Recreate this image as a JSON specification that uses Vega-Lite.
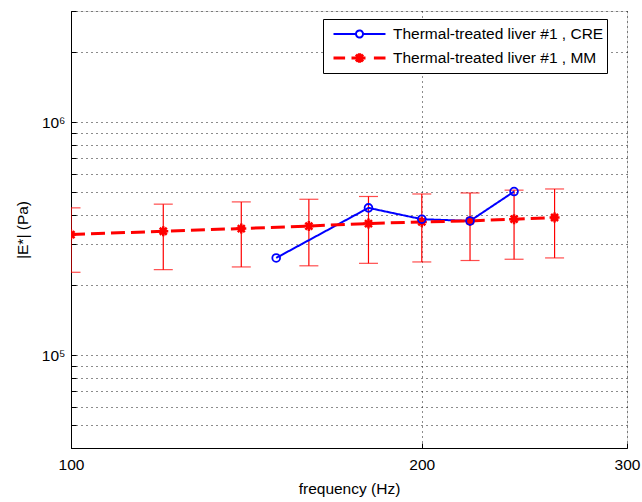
{
  "$schema": "https://vega.github.io/schema/vega-lite/v6.json",
  "width": 556,
  "height": 437,
  "autosize": {"type": "none"},
  "padding": {"left": 71, "top": 11, "right": 15, "bottom": 54},
  "background": "white",
  "data": {
    "values": [
      {"series": "Thermal-treated liver #1 , CRE", "freq": 150, "value": 261600},
      {"series": "Thermal-treated liver #1 , CRE", "freq": 180, "value": 429000},
      {"series": "Thermal-treated liver #1 , CRE", "freq": 200, "value": 383500},
      {"series": "Thermal-treated liver #1 , CRE", "freq": 220, "value": 377000},
      {"series": "Thermal-treated liver #1 , CRE", "freq": 240, "value": 504000},
      {"series": "Thermal-treated liver #1 , MM", "freq": 100, "value": 329600, "lo": 227000, "hi": 429000},
      {"series": "Thermal-treated liver #1 , MM", "freq": 120, "value": 340500, "lo": 233000, "hi": 445000},
      {"series": "Thermal-treated liver #1 , MM", "freq": 140, "value": 349800, "lo": 239300, "hi": 455000},
      {"series": "Thermal-treated liver #1 , MM", "freq": 160, "value": 358500, "lo": 242000, "hi": 467000},
      {"series": "Thermal-treated liver #1 , MM", "freq": 180, "value": 367500, "lo": 248000, "hi": 480000},
      {"series": "Thermal-treated liver #1 , MM", "freq": 200, "value": 373400, "lo": 251400, "hi": 492000},
      {"series": "Thermal-treated liver #1 , MM", "freq": 220, "value": 377000, "lo": 255000, "hi": 497000},
      {"series": "Thermal-treated liver #1 , MM", "freq": 240, "value": 383500, "lo": 258200, "hi": 511000},
      {"series": "Thermal-treated liver #1 , MM", "freq": 260, "value": 390000, "lo": 261600, "hi": 517000}
    ]
  },
  "encoding": {
    "x": {
      "field": "freq", "type": "quantitative",
      "scale": {"type": "log", "domain": [100, 300], "nice": false},
      "axis": {
        "title": "frequency (Hz)",
        "values": [100, 200, 300],
        "format": "d",
        "labelFlush": false,
        "labelOverlap": false,
        "labelBound": false,
        "grid": true,
        "gridColor": "#000000",
        "gridDash": [1, 4],
        "gridWidth": 1,
        "gridOpacity": 0.9,
        "tickSize": -5,
        "tickColor": "#000000",
        "domainColor": "#000000",
        "labelFont": "Liberation Sans",
        "labelFontSize": 15.5,
        "labelColor": "#000000",
        "labelPadding": 14,
        "titleFont": "Liberation Sans",
        "titleFontSize": 15.5,
        "titleFontWeight": "normal",
        "titleColor": "#000000",
        "titleY": 40,
        "titleBaseline": "middle"
      }
    },
    "y": {
      "field": "value", "type": "quantitative",
      "scale": {"type": "log", "domain": [40000, 3000000], "nice": false},
      "axis": {
        "title": "|E*| (Pa)",
        "values": [40000, 50000, 60000, 70000, 80000, 90000, 100000, 200000, 300000, 400000, 500000, 600000, 700000, 800000, 900000, 1000000, 2000000, 3000000],
        "labelExpr": "datum.value == 100000 ? '10⁵' : (datum.value == 1000000 ? '10⁶' : '')",
        "labelOverlap": false,
        "grid": true,
        "gridColor": "#000000",
        "gridDash": [1, 4],
        "gridWidth": 1,
        "gridOpacity": 0.9,
        "tickSize": -5,
        "tickColor": "#000000",
        "domainColor": "#000000",
        "labelFont": "Liberation Sans",
        "labelFontSize": 15.5,
        "labelColor": "#000000",
        "labelPadding": 11,
        "titleFont": "Liberation Sans",
        "titleFontSize": 15.5,
        "titleFontWeight": "normal",
        "titleColor": "#000000",
        "titleX": -49,
        "titleY": 218.5,
        "titleAngle": -90,
        "titleBaseline": "middle"
      }
    }
  },
  "layer": [
    {
      "transform": [{"filter": "datum.lo != null"}],
      "mark": {"type": "rule", "color": "#ff0000", "strokeWidth": 1.2, "clip": true},
      "encoding": {"y": {"field": "lo", "type": "quantitative"}, "y2": {"field": "hi"}}
    },
    {
      "transform": [{"filter": "datum.lo != null"}],
      "mark": {"type": "tick", "orient": "horizontal", "color": "#ff0000", "size": 19, "thickness": 1.2, "clip": true},
      "encoding": {"y": {"field": "lo", "type": "quantitative"}}
    },
    {
      "transform": [{"filter": "datum.lo != null"}],
      "mark": {"type": "tick", "orient": "horizontal", "color": "#ff0000", "size": 19, "thickness": 1.2, "clip": true},
      "encoding": {"y": {"field": "hi", "type": "quantitative"}}
    },
    {
      "mark": {"type": "line", "clip": true},
      "encoding": {
        "color": {
          "field": "series", "type": "nominal",
          "scale": {"domain": ["Thermal-treated liver #1 , CRE", "Thermal-treated liver #1 , MM"], "range": ["#0000ff", "#ff0000"]},
          "legend": {
            "title": null,
            "orient": "none",
            "legendX": 252,
            "legendY": 8,
            "padding": 3,
            "strokeColor": "#000000",
            "fillColor": "#ffffff",
            "clipHeight": 24,
            "rowPadding": 0,
            "symbolSize": 4096,
            "labelOffset": 0,
            "labelFont": "Liberation Sans",
            "labelFontSize": 15.5,
            "labelColor": "#000000",
            "labelLimit": 400,
            "labelExpr": "datum.label + '\u00a0\u00a0\u00a0'",
            "encode": {
              "symbols": {
                "update": {
                  "shape": {"signal": "datum.value === 'Thermal-treated liver #1 , CRE' ? 'M-0.8125,0L-0.11,0M0.11,0L0.8125,0M0.11,0A0.11,0.11 0 1,1 -0.11,0A0.11,0.11 0 1,1 0.11,0' : 'M-0.8125,0L-0.45,0M-0.25,0L0.25,0M0.45,0L0.8125,0M-0.15,0L0.15,0M0,-0.15L0,0.15M-0.11,-0.11L0.11,0.11M-0.11,0.11L0.11,-0.11'"},
                  "size": {"value": 4096},
                  "stroke": {"signal": "datum.value === 'Thermal-treated liver #1 , CRE' ? '#0000ff' : '#ff0000'"},
                  "strokeWidth": {"signal": "datum.value === 'Thermal-treated liver #1 , CRE' ? 2 : 2.8"},
                  "strokeDash": {"value": []},
                  "fill": {"value": "transparent"},
                  "opacity": {"value": 1}
                }
              }
            }
          }
        },
        "strokeDash": {
          "field": "series", "type": "nominal",
          "scale": {"domain": ["Thermal-treated liver #1 , CRE", "Thermal-treated liver #1 , MM"], "range": [[1, 0], [14, 6]]},
          "legend": null
        },
        "strokeWidth": {
          "field": "series", "type": "nominal",
          "scale": {"domain": ["Thermal-treated liver #1 , CRE", "Thermal-treated liver #1 , MM"], "range": [2, 3]},
          "legend": null
        },
        "order": {"field": "freq", "type": "quantitative"}
      }
    },
    {
      "transform": [{"filter": "datum.lo != null"}],
      "mark": {"type": "point", "shape": "M-1,0L1,0M0,-1L0,1M-0.7,-0.7L0.7,0.7M-0.7,0.7L0.7,-0.7", "filled": false, "stroke": "#ff0000", "strokeWidth": 2.5, "size": 100, "opacity": 1, "clip": true}
    },
    {
      "transform": [{"filter": "datum.lo == null"}],
      "mark": {"type": "point", "shape": "circle", "filled": false, "stroke": "#0000ff", "strokeWidth": 1.8, "size": 60, "opacity": 1, "clip": true}
    }
  ]
}
